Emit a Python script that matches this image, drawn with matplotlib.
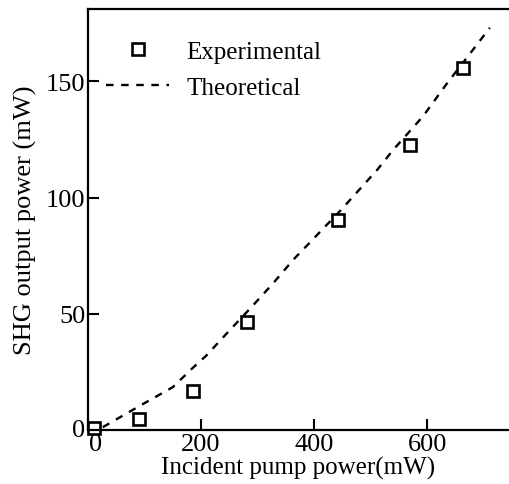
import matplotlib.pyplot as plt
import matplotlib.transforms as mtransforms
import numpy as np

pump_exp = [10, 91, 186, 282, 443, 570, 664]
shg_exp = [1, 5, 17, 46.5, 90.5, 122.5, 155.5]

# theoretical curve
pump_th = [0, 24, 94, 150, 185, 209, 247, 288, 327, 364, 382, 447, 512, 540, 593, 635, 670, 711]
shg_th = [0, 1, 10.8, 18.5, 26.7, 32, 42, 52.6, 63, 73.5, 78, 94.5, 112, 120.5, 135, 149, 160, 173]

xticks = [0, 200, 400, 600]
yticks = [0, 50, 100, 150]

plt.rcParams['font.family'] = 'Liberation Serif'

fig = plt.figure(figsize=(5.09, 4.85), dpi=100)
ax = fig.add_axes([0.173, 0.111, 0.827, 0.868])

ax.plot(pump_th, shg_th, color='black', lw=1.7, dashes=(3.2, 3.2), label='Theoretical')
ax.plot(pump_exp, shg_exp, ls='none', marker='s', ms=9, mfc='white', mec='black',
        mew=1.9, label='Experimental', clip_on=False)

ax.set_xlim(0, 745)
ax.set_ylim(0, 181)
ax.set_xticks(xticks)
ax.set_yticks(yticks)
ax.tick_params(direction='in', length=8, width=1.5, labelsize=19, pad=2)
for s in ['left', 'bottom', 'top']:
    ax.spines[s].set_linewidth(1.6)
ax.spines['right'].set_visible(False)

# the scan has the "0" on x nudged right and the "0" on y nudged up
fig.canvas.draw()
xl0 = ax.get_xticklabels()[0]
xl0.set_transform(xl0.get_transform() + mtransforms.ScaledTranslation(0.08, 0, fig.dpi_scale_trans))
yl0 = ax.get_yticklabels()[0]
yl0.set_transform(yl0.get_transform() + mtransforms.ScaledTranslation(0, 0.03, fig.dpi_scale_trans))

ax.set_xlabel('Incident pump power(mW)', fontsize=18, labelpad=1)
ax.set_ylabel('SHG output power (mW)', fontsize=19, labelpad=6)

h, l = ax.get_legend_handles_labels()
ax.legend(h[::-1], l[::-1], loc='upper left', frameon=False, fontsize=18,
          handlelength=2.5, handletextpad=0.7, bbox_to_anchor=(-0.01, 0.98),
          labelspacing=0.55)

fig.savefig('out.png', dpi=100)
